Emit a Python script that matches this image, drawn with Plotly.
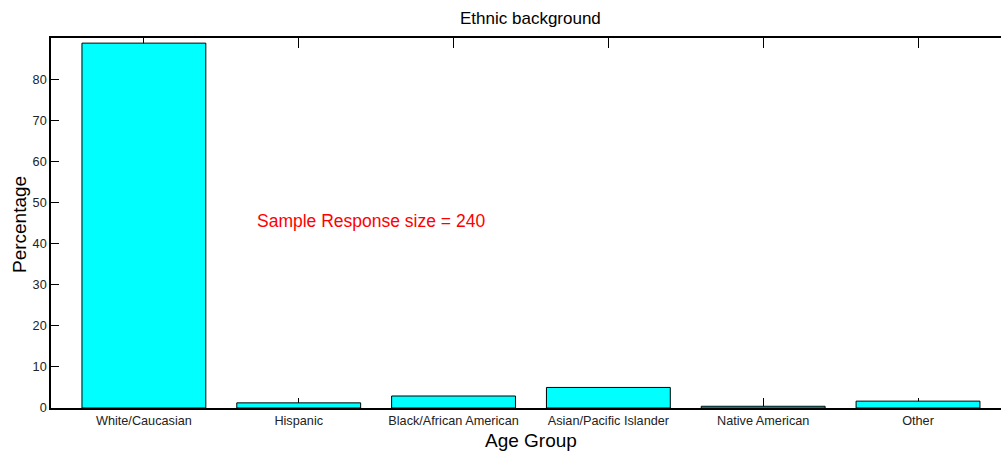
import plotly.graph_objects as go

categories = ["White/Caucasian", "Hispanic", "Black/African American",
              "Asian/Pacific Islander", "Native American", "Other"]
positions = [1, 2, 3, 4, 5, 6]
percentages = [88.75, 1.25, 2.92, 5.0, 0.42, 1.67]
y_ticks = [0, 10, 20, 30, 40, 50, 60, 70, 80]

font_family = "Liberation Sans, Arial, sans-serif"

fig = go.Figure()
fig.add_trace(go.Bar(
    x=positions, y=percentages, width=0.8,
    marker=dict(color="#00FFFF", line=dict(color="black", width=1)),
    showlegend=False,
))

fig.add_annotation(x=1.72, y=45.6, xref="x", yref="y", text="Sample Response size = 240",
                   showarrow=False, xanchor="left", yanchor="middle",
                   font=dict(color="red", size=17.5, family=font_family))
fig.add_annotation(x=3.5, y=1.0, xref="x", yref="paper", text="Ethnic background",
                   showarrow=False, xanchor="center", yanchor="middle", yshift=20,
                   font=dict(color="black", size=17, family=font_family))
fig.add_annotation(x=3.5, y=-0.0865, xref="x", yref="paper", text="Age Group",
                   showarrow=False, xanchor="center", yanchor="middle",
                   font=dict(color="black", size=19, family=font_family))
fig.add_annotation(x=-0.0326, y=0.4946, xref="paper", yref="paper", text="Percentage",
                   showarrow=False, xanchor="center", yanchor="middle", textangle=-90,
                   font=dict(color="black", size=19, family=font_family))

fig.update_layout(
    width=1001, height=452,
    margin=dict(l=51, r=0, t=38, b=44),
    paper_bgcolor="white", plot_bgcolor="white",
    font=dict(family=font_family, color="#222222", size=12),
    xaxis=dict(
        range=[0.4, 6.536], tickmode="array", tickvals=positions, ticktext=categories,
        showline=True, linecolor="black", linewidth=1.5, mirror="ticks",
        ticks="inside", ticklen=10, tickcolor="black", showgrid=False, zeroline=False,
        automargin=False, layer="below traces",
        tickfont=dict(size=12.7, color="#222222"),
    ),
    yaxis=dict(
        range=[0, 90], tickmode="array", tickvals=y_ticks,
        showline=True, linecolor="black", linewidth=1.5,
        ticks="inside", ticklen=8, tickcolor="black", showgrid=False, zeroline=False,
        automargin=False,
        tickfont=dict(size=12.7, color="#222222"),
    ),
)

fig.write_html("out.html", post_script="document.body.style.margin='0';",
               config={"displayModeBar": False})
